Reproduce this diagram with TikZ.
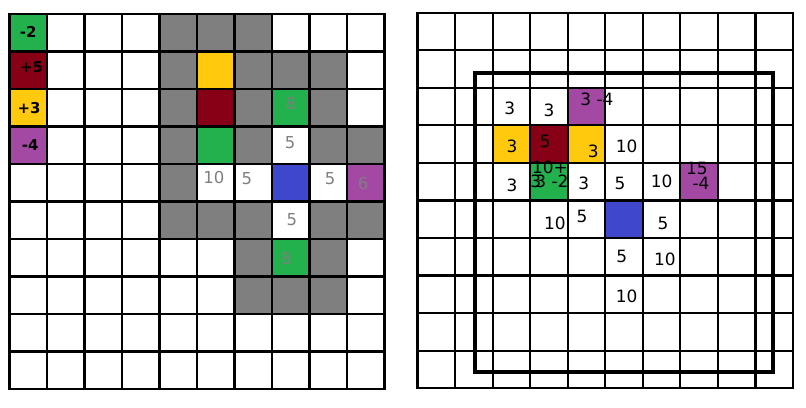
\documentclass[tikz,border=0pt]{standalone}
\usepackage{fontspec}
\setmainfont{DejaVu Sans}
\definecolor{pgreen}{RGB}{34,177,76}
\definecolor{pred}{RGB}{136,0,21}
\definecolor{pyellow}{RGB}{255,201,14}
\definecolor{ppurple}{RGB}{163,73,164}
\definecolor{pblue}{RGB}{63,72,204}
\definecolor{pgray}{RGB}{127,127,127}
\begin{document}
\begin{tikzpicture}
[
    x=1bp, y=-1bp,
    gridline/.style={line width=2.6bp, line cap=rect},
    thingrid/.style={line width=2.2bp, line cap=rect},
    frame/.style={line width=4.3bp},
    num/.style={font=\fontsize{17}{17}\selectfont, inner sep=0pt},
    faint/.style={num, font=\fontsize{16.5}{17}\selectfont, text=pgray},
    legend/.style={num, font=\fontsize{15}{15}\bfseries},
]
\useasboundingbox (0,0) rectangle (806,407);
% left board
\begin{scope}[shift={(9.5,14)}, x=37.5bp, y=-37.5bp]
\foreach \c/\r in {4/0,5/0,6/0,4/1,6/1,7/1,8/1,4/2,6/2,8/2,4/3,6/3,8/3,9/3,4/4,4/5,5/5,6/5,8/5,9/5,6/6,8/6,6/7,7/7,8/7}
    \fill[pgray] (\c,\r) rectangle +(1,1);
\foreach \c/\r/\col in {0/0/pgreen,0/1/pred,0/2/pyellow,0/3/ppurple,5/1/pyellow,5/2/pred,7/2/pgreen,5/3/pgreen,7/4/pblue,9/4/ppurple,7/6/pgreen}
    \fill[\col] (\c,\r) rectangle +(1,1);
\foreach \i in {0,...,10}
{
    \draw[gridline] (\i,0) -- (\i,10);
    \draw[gridline] (0,\i) -- (10,\i);
}
\node[legend] (lgreen) at (0.5,0.47) {-2};
\node[legend] (lred) at (0.59,1.43) {+5};
\node[legend] (lyellow) at (0.52,2.51) {+3};
\node[legend] (lpurple) at (0.55,3.49) {-4};
\node[faint] (a8) at (7.5,2.4) {8};
\node[faint] (a5) at (7.48,3.44) {5};
\node[faint] (b10) at (5.45,4.37) {10};
\node[faint] (b5) at (6.33,4.4) {5};
\node[faint] (c5) at (8.55,4.4) {5};
\node[faint] (c6) at (9.43,4.53) {6};
\node[faint] (d5) at (7.53,5.49) {5};
\node[faint] (d8) at (7.39,6.53) {8};
\end{scope}
% right board
\begin{scope}[shift={(417.5,12.7)}, x=37.55bp, y=-37.55bp]
\foreach \c/\r/\col in {4/2/ppurple,2/3/pyellow,3/3/pred,4/3/pyellow,3/4/pgreen,7/4/ppurple,5/5/pblue}
    \fill[\col] (\c,\r) rectangle +(1,1);
\foreach \i in {0,...,10}
{
    \draw[thingrid] (\i,0) -- (\i,10);
    \draw[thingrid] (0,\i) -- (10,\i);
}
\node[num] (r22) at (2.46,2.54) {3};
\node[num] (r32) at (3.5,2.59) {3};
\node[num] (r42) at (4.78,2.32) {3 -4};
\node[num] (r23) at (2.52,3.55) {3};
\node[num] (r33) at (3.4,3.44) {5};
\node[num] (r43) at (4.68,3.7) {3};
\node[num] (r53) at (5.57,3.57) {10};
\node[num] (r24) at (2.52,4.61) {3};
\node[num] (r34a) at (3.53,4.12) {10+};
\node[num] (r34b) at (3.15,4.5) {3};
\node[num] (r34c) at (3.58,4.5) {3 -2};
\node[num] (r44) at (4.43,4.54) {3};
\node[num] (r54) at (5.39,4.54) {5};
\node[num] (r64) at (6.5,4.48) {10};
\node[num] (r74a) at (7.44,4.14) {15};
\node[num] (r74b) at (7.55,4.54) {-4};
\node[num] (r35) at (3.66,5.61) {10};
\node[num] (r45) at (4.38,5.43) {5};
\node[num] (r65) at (6.54,5.6) {5};
\node[num] (r56) at (5.44,6.5) {5};
\node[num] (r66) at (6.59,6.56) {10};
\node[num] (r57) at (5.57,7.54) {10};
\end{scope}
\draw[frame] (475.3,73.3) rectangle (773.3,371.7);
\end{tikzpicture}
\end{document}
